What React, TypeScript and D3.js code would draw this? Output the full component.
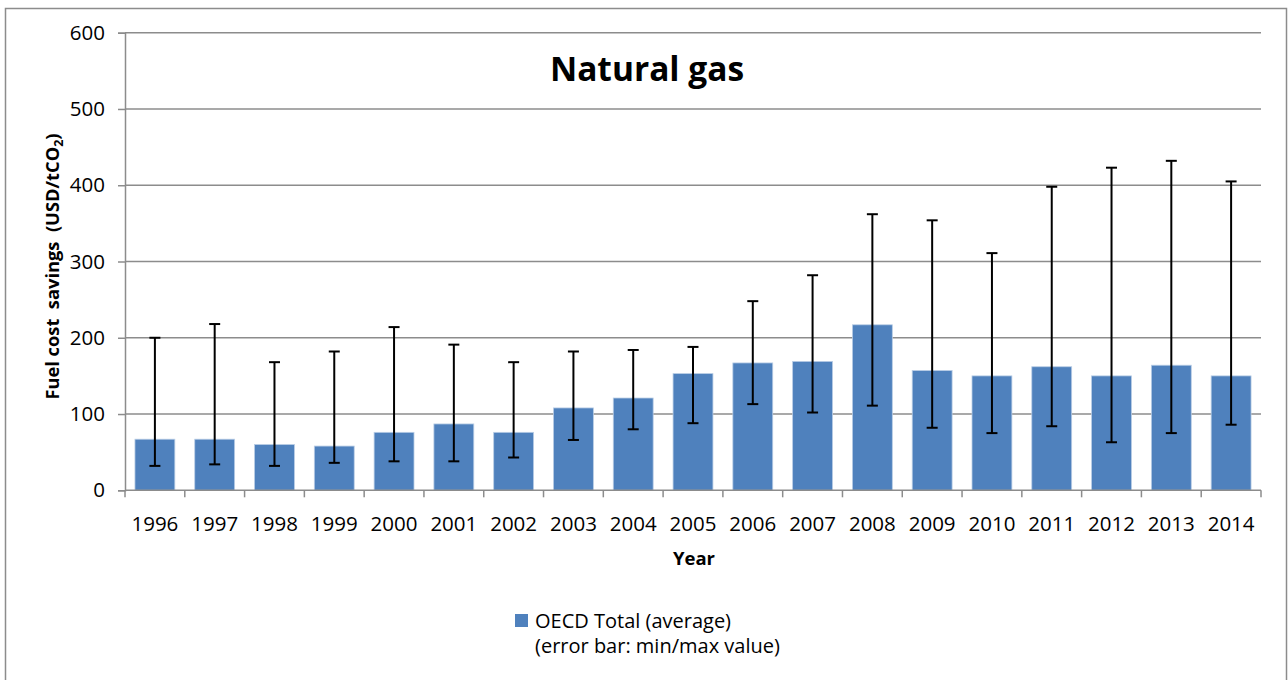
import React, { useRef, useEffect } from 'react'
import * as d3 from 'd3'

const years = ['1996', '1997', '1998', '1999', '2000', '2001', '2002', '2003', '2004', '2005', '2006', '2007', '2008', '2009', '2010', '2011', '2012', '2013', '2014']
const averages = [67, 67, 60, 58, 76, 87, 76, 108, 121, 153, 167, 169, 217, 157, 150, 162, 150, 164, 150]
const minValues = [32, 34, 32, 36, 38, 38, 43, 66, 80, 88, 113, 102, 111, 82, 75, 84, 63, 75, 86]
const maxValues = [200, 218, 168, 182, 214, 191, 168, 182, 184, 188, 248, 282, 362, 354, 311, 398, 423, 432, 405]
const yTicks = [0, 100, 200, 300, 400, 500, 600]

const W = 1288
const H = 680
const M = { top: 32.7, right: 27, bottom: 189.7, left: 125 }
const FONT = '"Open Sans", Lato, sans-serif'
const GRID = '#8c8c8c'

const App = () => {
  const ref = useRef(null)

  useEffect(() => {
    document.body.style.margin = '0'
    const svg = d3.select(ref.current)
    svg.selectAll('*').remove()

    const x = d3
      .scaleBand()
      .domain(years)
      .range([M.left, W - M.right])
      .paddingInner(0.333)
      .paddingOuter(0.1665)
    const y = d3
      .scaleLinear()
      .domain([0, 600])
      .range([H - M.bottom, M.top])

    // outer chart border
    svg
      .append('rect')
      .attr('x', 5.5)
      .attr('y', 8.5)
      .attr('width', W - 7)
      .attr('height', H)
      .attr('fill', 'white')
      .attr('stroke', GRID)
      .attr('stroke-width', 1.5)

    // gridlines
    svg
      .append('g')
      .selectAll('line')
      .data(yTicks.filter(d => d > 0))
      .join('line')
      .attr('x1', M.left)
      .attr('x2', W - M.right)
      .attr('y1', d => y(d))
      .attr('y2', d => y(d))
      .attr('stroke', GRID)
      .attr('stroke-width', 1.5)

    // y axis
    const yAxis = d3.axisLeft(y).tickValues(yTicks).tickSize(7).tickPadding(13)
    const gy = svg.append('g').attr('transform', `translate(${M.left},0)`).call(yAxis)
    gy.selectAll('path, line').attr('stroke', GRID).attr('stroke-width', 1.5)
    gy.selectAll('text').attr('font-family', FONT).attr('font-size', 20.5).attr('fill', '#000')

    // bars
    svg
      .append('g')
      .selectAll('rect')
      .data(averages)
      .join('rect')
      .attr('x', (d, i) => x(years[i]))
      .attr('y', d => y(d))
      .attr('width', x.bandwidth())
      .attr('height', d => y(0) - y(d))
      .attr('fill', '#4f81bd')
      .attr('stroke', '#b9cde5')
      .attr('stroke-width', 0.8)

    // x axis with ticks at category boundaries
    const step = x.step()
    const gx = svg.append('g').attr('transform', `translate(0,${y(0)})`)
    gx.append('line')
      .attr('x1', M.left)
      .attr('x2', W - M.right)
      .attr('stroke', GRID)
      .attr('stroke-width', 1.5)
    gx.selectAll('line.tick')
      .data(d3.range(years.length + 1))
      .join('line')
      .attr('class', 'tick')
      .attr('x1', i => M.left + i * step)
      .attr('x2', i => M.left + i * step)
      .attr('y1', 0)
      .attr('y2', 7)
      .attr('stroke', GRID)
      .attr('stroke-width', 1.5)
    gx.selectAll('text')
      .data(years)
      .join('text')
      .attr('x', d => x(d) + x.bandwidth() / 2)
      .attr('y', 41)
      .attr('text-anchor', 'middle')
      .attr('font-family', FONT)
      .attr('font-size', 20.5)
      .text(d => d)

    // error bars
    const eb = svg.append('g').attr('stroke', '#000').attr('stroke-width', 2)
    years.forEach((yr, i) => {
      const cx = x(yr) + x.bandwidth() / 2
      eb.append('line').attr('x1', cx).attr('x2', cx).attr('y1', y(minValues[i])).attr('y2', y(maxValues[i]))
      ;[minValues[i], maxValues[i]].forEach(v => {
        eb.append('line').attr('x1', cx - 5.5).attr('x2', cx + 5.5).attr('y1', y(v)).attr('y2', y(v))
      })
    })

    // title
    svg
      .append('text')
      .attr('x', 647)
      .attr('y', 81)
      .attr('text-anchor', 'middle')
      .attr('font-family', FONT)
      .attr('font-weight', 'bold')
      .attr('font-size', 33.5)
      .text('Natural gas')

    // axis titles
    svg
      .append('text')
      .attr('x', 694)
      .attr('y', 565)
      .attr('text-anchor', 'middle')
      .attr('font-family', FONT)
      .attr('font-weight', 'bold')
      .attr('font-size', 18.5)
      .text('Year')

    const yt = svg
      .append('text')
      .attr('transform', `translate(59,${(y(0) + y(600)) / 2 + 5}) rotate(-90)`)
      .attr('text-anchor', 'middle')
      .attr('font-family', FONT)
      .attr('font-weight', 'bold')
      .attr('font-size', 18.3)
      .attr('xml:space', 'preserve')
    yt.append('tspan').text('Fuel cost  savings  (USD/tCO')
    yt.append('tspan').attr('font-size', 12.5).attr('dy', 4).text('2')
    yt.append('tspan').attr('dy', -4).text(')')

    // legend
    svg
      .append('rect')
      .attr('x', 515)
      .attr('y', 614)
      .attr('width', 13)
      .attr('height', 13)
      .attr('fill', '#4f81bd')
    const lg = svg.append('g').attr('font-family', FONT).attr('font-size', 20)
    lg.append('text').attr('x', 535).attr('y', 628).text('OECD Total (average)')
    lg.append('text').attr('x', 535).attr('y', 653).text('(error bar: min/max value)')
  }, [])

  return <svg ref={ref} width={W} height={H} style={{ display: 'block' }} />
}

export default App
